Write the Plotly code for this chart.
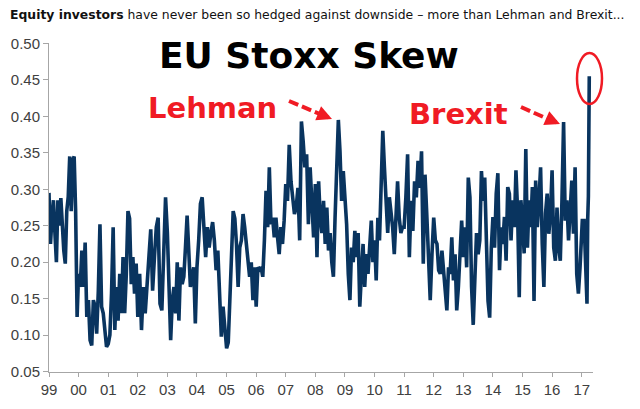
import pandas as pd
import plotly.graph_objects as go

# ---- data ----
skew_1999 = [0.295,0.225,0.26,0.285,0.24,0.20,0.285,0.25,0.288,0.24,0.216,0.198,0.27,0.29,0.345,0.27,0.34,0.345,0.27,0.125]
skew_2000 = [0.184,0.166,0.216,0.166,0.227,0.125,0.148,0.093,0.086,0.148,0.14,0.102,0.16,0.252,0.139,0.13,0.10,0.084]
skew_2001 = [0.088,0.10,0.157,0.248,0.107,0.166,0.12,0.184,0.13,0.207,0.13,0.184,0.27,0.26,0.17,0.207,0.157,0.198]
skew_2002 = [0.125,0.184,0.107,0.166,0.13,0.161,0.207,0.245,0.161,0.207,0.248,0.261,0.143,0.134,0.207,0.289]
skew_2003 = [0.24,0.166,0.093,0.148,0.166,0.13,0.2,0.12,0.193,0.17,0.18,0.22,0.264,0.216,0.166,0.18,0.193,0.116]
skew_2004 = [0.193,0.23,0.28,0.289,0.248,0.207,0.248,0.22,0.24,0.255,0.23,0.189,0.216,0.166,0.098,0.139,0.102]
skew_2005 = [0.082,0.09,0.148,0.211,0.27,0.26,0.225,0.166,0.22,0.23,0.266,0.248,0.225,0.193,0.18,0.20,0.148,0.193]
skew_2006 = [0.139,0.193,0.19,0.193,0.18,0.23,0.298,0.248,0.33,0.252,0.261,0.234,0.261,0.234,0.211,0.248,0.225,0.257]
skew_2007 = [0.307,0.284,0.361,0.311,0.284,0.266,0.275,0.302,0.23,0.393,0.366,0.33,0.348,0.252,0.33,0.284,0.234]
skew_2008 = [0.307,0.207,0.311,0.261,0.24,0.284,0.225,0.275,0.216,0.24,0.2,0.18,0.261,0.33,0.395,0.352,0.284,0.325]
skew_2009 = [0.289,0.252,0.184,0.148,0.22,0.2,0.243,0.207,0.24,0.139,0.184,0.225,0.166,0.211,0.184,0.216,0.257,0.2]
skew_2010 = [0.23,0.175,0.261,0.23,0.302,0.38,0.33,0.284,0.24,0.289,0.27,0.248,0.211,0.261,0.311,0.261,0.24,0.248]
skew_2011 = [0.248,0.289,0.348,0.207,0.284,0.243,0.311,0.289,0.339,0.302,0.352,0.198,0.32,0.266,0.216,0.148,0.211]
skew_2012 = [0.261,0.23,0.225,0.189,0.184,0.216,0.189,0.157,0.134,0.193,0.184,0.234,0.175,0.211,0.134,0.166,0.22,0.257]
skew_2013 = [0.207,0.248,0.193,0.316,0.289,0.166,0.114,0.184,0.24,0.211,0.23,0.325,0.284,0.316,0.248,0.147,0.124,0.22]
skew_2014 = [0.262,0.22,0.294,0.322,0.189,0.248,0.225,0.262,0.202,0.303,0.294,0.23,0.285,0.248,0.326,0.27,0.152,0.285]
skew_2015 = [0.257,0.212,0.355,0.22,0.285,0.248,0.303,0.147,0.312,0.248,0.285,0.33,0.225,0.166,0.267,0.294,0.239,0.267]
skew_2016 = [0.326,0.22,0.202,0.275,0.22,0.202,0.285,0.392,0.257,0.285,0.23,0.275,0.312,0.239,0.33,0.184,0.157,0.193]
skew_2017 = [0.257,0.257,0.184,0.143,0.26,0.29,0.455]
dates_2017 = ["2017-01-08","2017-01-30","2017-02-21","2017-03-07","2017-03-16","2017-03-24","2017-04-04"]

y_ticks = [0.05,0.10,0.15,0.20,0.25,0.30,0.35,0.40,0.45,0.50]

yearly = {
    1999: skew_1999, 2000: skew_2000, 2001: skew_2001, 2002: skew_2002,
    2003: skew_2003, 2004: skew_2004, 2005: skew_2005, 2006: skew_2006,
    2007: skew_2007, 2008: skew_2008, 2009: skew_2009, 2010: skew_2010,
    2011: skew_2011, 2012: skew_2012, 2013: skew_2013, 2014: skew_2014,
    2015: skew_2015, 2016: skew_2016,
}

dates, vals = [], []
for yr, v in yearly.items():
    n = len(v)
    start = pd.Timestamp(yr, 1, 1)
    for i, val in enumerate(v):
        dates.append(start + pd.Timedelta(days=365.25 * i / n))
        vals.append(val)
dates += list(pd.to_datetime(dates_2017))
vals += skew_2017

# ---- layout geometry ----
W, H = 640, 409
L, R, T, B = 49, 47, 43, 37
PW, PH = W - L - R, H - T - B

def fx(p):
    return (p - L) / PW

def fy(p):
    return (H - B - p) / PH

RED = "#f01b24"
NAVY = "#09345f"
AX = "#a6a6a6"
LBL = "#404040"

fig = go.Figure()
fig.add_trace(go.Scatter(x=dates, y=vals, mode="lines",
                         line=dict(color=NAVY, width=3.6), hoverinfo="skip"))

fig.update_layout(
    width=W, height=H,
    margin=dict(l=L, r=R, t=T, b=B),
    paper_bgcolor="white", plot_bgcolor="white",
    showlegend=False,
    xaxis=dict(type="date", range=["1999-01-01", "2017-05-20"],
               tick0="1999-01-01", dtick="M12", tickformat="%y",
               ticks="outside", ticklen=4, tickcolor=AX, tickwidth=1,
               showline=True, linecolor=AX, linewidth=1,
               showgrid=False, zeroline=False,
               tickfont=dict(family="Liberation Sans, Arial", size=15, color=LBL)),
    yaxis=dict(range=[0.0495, 0.5005], tickvals=y_ticks, tickformat=".2f",
               ticks="outside", ticklen=5, tickcolor=AX, tickwidth=1,
               showline=True, linecolor=AX, linewidth=1,
               showgrid=False, zeroline=False,
               tickfont=dict(family="Liberation Sans, Arial", size=15, color=LBL)),
)

ann = []
ann.append(dict(xref="paper", yref="paper", x=fx(8), y=fy(14), xanchor="left", yanchor="middle",
                text="<b>Equity investors</b> have never been so hedged against downside \u2013 more than Lehman and Brexit...",
                showarrow=False, font=dict(family="DejaVu Sans", size=12.4, color="#111111")))
ann.append(dict(xref="paper", yref="paper", x=fx(309), y=fy(56), xanchor="center", yanchor="middle",
                text="<b>EU Stoxx Skew</b>", showarrow=False,
                font=dict(family="DejaVu Sans", size=36, color="#000000")))
ann.append(dict(xref="paper", yref="paper", x=fx(212.5), y=fy(108), xanchor="center", yanchor="middle",
                text="<b>Lehman</b>", showarrow=False,
                font=dict(family="DejaVu Sans", size=29, color=RED)))
ann.append(dict(xref="paper", yref="paper", x=fx(458), y=fy(114), xanchor="center", yanchor="middle",
                text="<b>Brexit</b>", showarrow=False,
                font=dict(family="DejaVu Sans", size=29, color=RED)))
# arrow heads
for (tx, ty, ux, uy) in [(332, 119, 0.923, 0.386), (560, 124, 0.917, 0.40)]:
    ann.append(dict(xref="paper", yref="paper", x=fx(tx), y=fy(ty), text="",
                    showarrow=True, arrowhead=2, arrowsize=0.75, arrowwidth=4,
                    arrowcolor=RED, ax=-14 * ux, ay=-14 * uy))
fig.update_layout(annotations=ann)

shapes = []
# dashed arrow bodies
for (x0, y0, x1, y1) in [(289, 101, 321, 114.5), (521, 107, 549, 119.5)]:
    shapes.append(dict(type="line", xref="paper", yref="paper",
                       x0=fx(x0), y0=fy(y0), x1=fx(x1), y1=fy(y1),
                       line=dict(color=RED, width=4, dash="10px,4px")))
# ellipse around the latest spike
shapes.append(dict(type="circle", xref="paper", yref="paper",
                   x0=fx(577), x1=fx(602), y0=fy(104), y1=fy(53),
                   line=dict(color=RED, width=2.5)))
fig.update_layout(shapes=shapes)

fig.write_html("out.html", config={"displayModeBar": False},
               post_script="document.body.style.margin='0';")
